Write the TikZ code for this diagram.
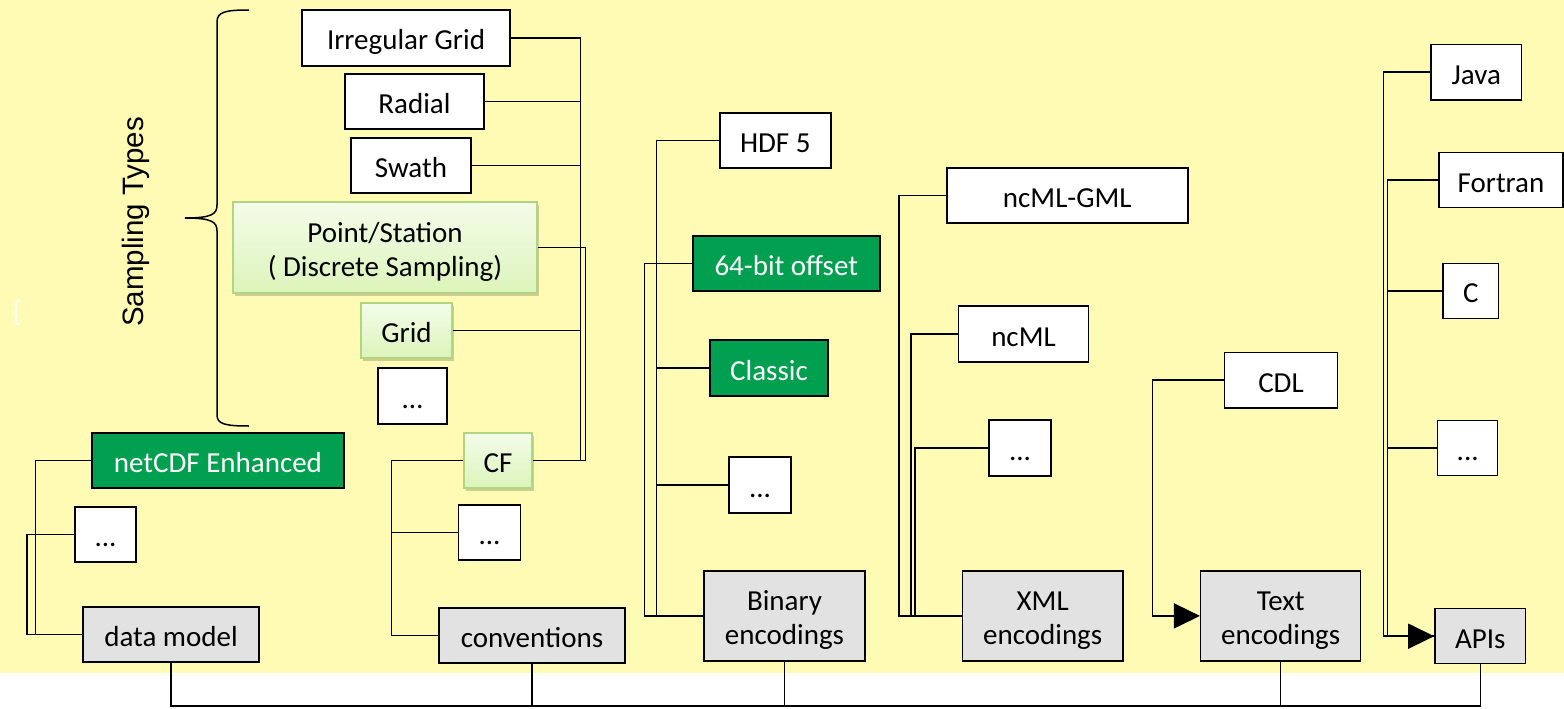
\documentclass[tikz,border=0pt]{standalone}
\usepackage{fontspec}
\setmainfont{Carlito}
\newfontfamily\arialfont{Liberation Sans}
\usetikzlibrary{arrows.meta,shadows}

\definecolor{paper}{RGB}{255,250,180}
\definecolor{darkgreen}{RGB}{0,160,80}
\definecolor{lightgrey}{RGB}{226,226,226}
\definecolor{palegreenT}{RGB}{244,252,234}
\definecolor{palegreenB}{RGB}{220,244,186}
\definecolor{greenedge}{RGB}{178,214,128}

% struts that fix where the baseline sits inside a box
\newcommand\boxstrut{\rule[-8pt]{0pt}{40pt}}
\newcommand\tallstrut{\rule{0pt}{28pt}}

\tikzset{
  base/.style={draw=black, line width=1.5pt, inner sep=0pt, align=center,
               font=\fontsize{29}{34}\selectfont},
  box/.style={base, execute at begin node=\boxstrut},
  lgfill/.style={draw=greenedge, top color=palegreenT, bottom color=palegreenB,
                 drop shadow={shadow xshift=1.5pt, shadow yshift=-2.5pt, fill=black, opacity=0.18}},
  wbox/.style={box, fill=white},
  gbox/.style={box, fill=lightgrey},
  dgbox/.style={box, fill=darkgreen, text=white},
  lgbox/.style={box, lgfill},
  gtwo/.style={base, fill=lightgrey},
  lgtwo/.style={base, lgfill},
  conn/.style={line width=1.6pt, draw=black},
  bus/.style={line width=1.3pt, draw=black},
  tipped/.style={-{Triangle[length=26pt,width=25pt]}},
}

\begin{document}
\begin{tikzpicture}[x=1pt,y=-1pt]
  \useasboundingbox (0,0) rectangle (1564,709);
  \fill[white] (0,0) rectangle (1564,709);
  \fill[paper] (0,0) rectangle (1564,673);

  % sampling types group
  \draw[line width=1.5pt] (249,10) .. controls (225,10) and (217,12) .. (217,22)
        -- (217,205) .. controls (217,214) and (212,218) .. (185,218)
        .. controls (212,218) and (217,222) .. (217,231)
        -- (217,415) .. controls (217,424) and (225,426) .. (249,426);
  \node[rotate=90, font=\arialfont\fontsize{29.5}{34}\selectfont] (stypes) at (136,222) {Sampling Types};
  \node[text=white, font=\fontsize{29}{34}\selectfont] (wbrace) at (17,313) {\{};

  \node[wbox, minimum width=208pt, minimum height=56pt] (irr) at (406,38) {Irregular Grid};
  \node[wbox, minimum width=139pt, minimum height=55pt] (rad) at (414.5,101.5) {Radial};
  \node[wbox, minimum width=120pt, minimum height=55pt] (swa) at (411,165.5) {Swath};
  \node[lgtwo, minimum width=304pt, minimum height=91pt] (pst) at (385,247.5) {\tallstrut Point/Station\\( Discrete Sampling)};
  \node[lgbox, minimum width=91pt, minimum height=55pt] (grd) at (406.5,330.5) {Grid};
  \node[wbox, minimum width=69pt, minimum height=56pt] (sdots) at (412.5,396) {...};

  % data model
  \node[dgbox, minimum width=252pt, minimum height=55pt] (enh) at (218,460.5) {netCDF Enhanced};
  \node[wbox, minimum width=61pt, minimum height=55pt] (ddots) at (105.5,534.5) {...};
  \node[gbox, minimum width=176pt, minimum height=55pt] (dm) at (171,634.5) {data model};

  % conventions
  \node[lgbox, minimum width=68pt, minimum height=55pt] (cf) at (498,460.5) {CF};
  \node[wbox, minimum width=62pt, minimum height=55pt] (cdots) at (489.5,532.5) {...};
  \node[gbox, minimum width=186pt, minimum height=55pt] (conv) at (532,635.5) {conventions};

  % binary encodings
  \node[wbox, minimum width=111pt, minimum height=55pt] (hdf) at (775.3,140.5) {HDF 5};
  \node[dgbox, minimum width=187pt, minimum height=55pt] (b64) at (786.3,263.5) {64-bit offset};
  \node[dgbox, minimum width=118pt, minimum height=56pt] (cls) at (769,368) {Classic};
  \node[wbox, minimum width=62pt, minimum height=56pt] (bdots) at (760,485) {...};
  \node[gtwo, minimum width=161pt, minimum height=90pt] (bin) at (784.5,616) {\tallstrut Binary\\encodings};

  % XML encodings
  \node[wbox, minimum width=241pt, minimum height=55pt] (gml) at (1067.3,195.5) {ncML-GML};
  \node[wbox, minimum width=130pt, minimum height=56pt] (ncml) at (1023.5,334) {ncML};
  \node[wbox, minimum width=62pt, minimum height=56pt] (xdots) at (1020,448) {...};
  \node[gtwo, minimum width=160.5pt, minimum height=90pt] (xml) at (1042.7,616) {\tallstrut XML\\encodings};

  % text encodings
  \node[wbox, minimum width=113.4pt, minimum height=55.7pt] (cdl) at (1281,380.2) {CDL};
  \node[gtwo, minimum width=160pt, minimum height=90.3pt] (txt) at (1280.7,615.9) {\tallstrut Text\\encodings};

  % APIs
  \node[wbox, minimum width=90.7pt, minimum height=55.3pt] (java) at (1476.3,72.3) {Java};
  \node[wbox, minimum width=124pt, minimum height=55pt] (fort) at (1501,180.2) {Fortran};
  \node[wbox, minimum width=55.7pt, minimum height=55pt] (cc) at (1470.8,290.8) {C};
  \node[wbox, minimum width=60pt, minimum height=55.4pt] (adots) at (1467.7,448) {...};
  \node[gbox, minimum width=90.7pt, minimum height=55pt] (apis) at (1480.3,636.2) {APIs};

  % vertical trunks of the connector trees
  \coordinate (sbA) at (580.5,0);
  \coordinate (sbB) at (585.5,0);
  \coordinate (dbA) at (35.6,0);
  \coordinate (dbB) at (27,0);
  \coordinate (cbA) at (391.5,0);
  \coordinate (bbA) at (656.5,0);
  \coordinate (bbB) at (644.5,0);
  \coordinate (xbA) at (899,0);
  \coordinate (xbB) at (910.8,0);
  \coordinate (xbC) at (914.7,0);
  \coordinate (tbA) at (1152.5,0);
  \coordinate (abA) at (1383.3,0);
  \coordinate (abB) at (1387.5,0);
  \coordinate (bot) at (0,706);

  \foreach \c in {irr,rad,swa,grd}
    \draw[conn] (\c.east) -| (sbA |- cf.east) -- (cf.east);
  \draw[conn] (pst.east) -| (sbB |- cf.east) -- (cf.east);

  \draw[conn] (enh.west) -| (dbA |- dm.west) -- (dm.west);
  \draw[conn] (ddots.west) -| (dbB |- dm.west) -- (dm.west);

  \draw[conn] (cf.west) -| (cbA |- conv.west) -- (conv.west);
  \draw[conn] (cdots.west) -| (cbA |- conv.west) -- (conv.west);

  \foreach \c in {hdf,cls,bdots}
    \draw[conn] (\c.west) -| (bbA |- bin.west) -- (bin.west);
  \draw[conn] (b64.west) -| (bbB |- bin.west) -- (bin.west);

  \draw[conn] (gml.west) -| (xbA |- xml.west) -- (xml.west);
  \draw[conn] (ncml.west) -| (xbB |- xml.west) -- (xml.west);
  \draw[conn] (xdots.west) -| (xbC |- xml.west) -- (xml.west);

  \draw[conn, tipped] (cdl.west) -| (tbA |- txt.west) -- (txt.west);

  \foreach \c in {fort,cc,adots}
    \draw[conn] (\c.west) -| (abB |- apis.west) -- (apis.west);
  \draw[conn, tipped] (java.west) -| (abA |- apis.west) -- (apis.west);

  % bottom link between the five groups
  \draw[bus] (dm.south) -- (dm.south |- bot) -- (apis.south |- bot) -- (apis.south);
  \foreach \c in {conv,bin,txt}
    \draw[bus] (\c.south) -- (\c.south |- bot);
\end{tikzpicture}
\end{document}
